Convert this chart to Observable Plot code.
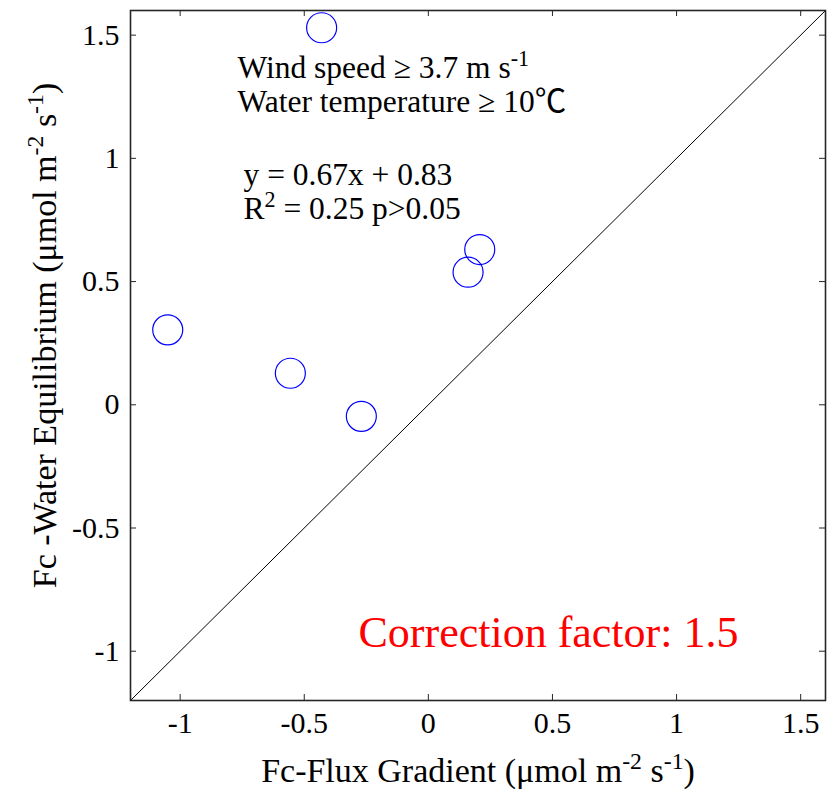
<!DOCTYPE html>
<html>
<head>
<meta charset="utf-8">
<script src="https://cdn.jsdelivr.net/npm/d3@7"></script>
<script src="https://cdn.jsdelivr.net/npm/@observablehq/plot@0.6"></script>
<style>
  html, body { margin: 0; padding: 0; background: #fff; }
</style>
</head>
<body>
<div id="chart"></div>
<script>
// ---- data ----
const fluxGradient = [-0.43, -1.05, -0.556, -0.27, 0.16, 0.207];
const waterEquilibrium = [1.53, 0.304, 0.128, -0.047, 0.538, 0.63];
const xDomain = [-1.2, 1.6];
const yDomain = [-1.2, 1.6];
const xTicks = [-1, -0.5, 0, 0.5, 1, 1.5];
const yTicks = [-1, -0.5, 0, 0.5, 1, 1.5];
const xLabel = "Fc-Flux Gradient (μmol m^{-2} s^{-1})";
const yLabel = "Fc -Water Equilibrium (μmol m^{-2} s^{-1})";
const conditionLines = ["Wind speed ≥ 3.7 m s^{-1}", "Water temperature ≥ 10℃"];
const statLines = ["y = 0.67x + 0.83", "R^{2} = 0.25 p>0.05"];
const correctionText = ["Correction factor: 1.5"];

const points = fluxGradient.map((x, i) => ({x, y: waterEquilibrium[i]}));

const W = 832, H = 795;
const mL = 130, mR = 7, mT = 10, mB = 95;
const pw = W - mL - mR, ph = H - mT - mB;
const tickLen = 6;
const fmt = d => String(d);
const axisColor = "#262626";
const annSize = 31.5;

const chart = Plot.plot({
  width: W, height: H,
  marginLeft: mL, marginRight: mR, marginTop: mT, marginBottom: mB,
  style: {fontFamily: "'Liberation Serif', 'Times New Roman', 'Noto Sans CJK SC', serif", background: "#fff", color: "#000"},
  x: {domain: xDomain},
  y: {domain: yDomain},
  marks: [
    Plot.line(xDomain, {x: d => d, y: d => d, stroke: "#000", strokeWidth: 1}),
    Plot.dot(points, {x: "x", y: "y", r: 15, stroke: "#0000ff", fill: "none", strokeWidth: 1.2}),
    // inner ticks on all four sides
    Plot.ruleX(xTicks, {x: d => d, insetTop: ph - tickLen, stroke: axisColor, strokeWidth: 1}),
    Plot.ruleX(xTicks, {x: d => d, insetBottom: ph - tickLen, stroke: axisColor, strokeWidth: 1}),
    Plot.ruleY(yTicks, {y: d => d, insetRight: pw - tickLen, stroke: axisColor, strokeWidth: 1}),
    Plot.ruleY(yTicks, {y: d => d, insetLeft: pw - tickLen, stroke: axisColor, strokeWidth: 1}),
    Plot.frame({stroke: axisColor, strokeWidth: 1.6}),
    Plot.axisX(xTicks, {anchor: "bottom", tickSize: 0, tickPadding: 11, tickFormat: fmt, fontSize: 30, label: null, fill: "#000"}),
    Plot.axisY(yTicks, {anchor: "left", tickSize: 0, tickPadding: 11, tickFormat: fmt, fontSize: 30, label: null, fill: "#000"}),
    // axis titles
    Plot.text([xLabel], {text: d => d, frameAnchor: "bottom", textAnchor: "middle", dy: 81, lineAnchor: "bottom", fontSize: 34, fill: "#000"}),
    Plot.text([yLabel], {text: d => d, frameAnchor: "left", textAnchor: "middle", dx: -85, dy: -20, rotate: -90, lineAnchor: "middle", fontSize: 34, fill: "#000"}),
    // annotations
    Plot.text([conditionLines[0]], {text: d => d, frameAnchor: "top-left", dx: 107, dy: 67, textAnchor: "start", lineAnchor: "bottom", fontSize: annSize, fill: "#000"}),
    Plot.text([conditionLines[1]], {text: d => d, frameAnchor: "top-left", dx: 107, dy: 101, textAnchor: "start", lineAnchor: "bottom", fontSize: annSize, fill: "#000"}),
    Plot.text([statLines[0]], {text: d => d, frameAnchor: "top-left", dx: 113, dy: 174, textAnchor: "start", lineAnchor: "bottom", fontSize: annSize, fill: "#000"}),
    Plot.text([statLines[1]], {text: d => d, frameAnchor: "top-left", dx: 113, dy: 208, textAnchor: "start", lineAnchor: "bottom", fontSize: annSize, fill: "#000"}),
    Plot.text(correctionText, {text: d => d, frameAnchor: "top-left", dx: 228, dy: 636, textAnchor: "start", lineAnchor: "bottom", fontSize: 44, fill: "#ff0000"})
  ]
});

// convert ^{...} markup into superscript tspans
chart.querySelectorAll("text").forEach(t => {
  if (t.children.length) return;
  const s = t.textContent;
  if (!s.includes("^{")) return;
  t.textContent = "";
  const parts = s.split(/\^\{([^}]*)\}/);
  parts.forEach((p, i) => {
    if (!p) return;
    if (i % 2 === 0) {
      t.appendChild(document.createTextNode(p));
    } else {
      const sp = document.createElementNS("http://www.w3.org/2000/svg", "tspan");
      sp.setAttribute("baseline-shift", "super");
      sp.setAttribute("font-size", "0.7em");
      sp.textContent = p;
      t.appendChild(sp);
    }
  });
});

document.getElementById("chart").appendChild(chart);
</script>
</body>
</html>
